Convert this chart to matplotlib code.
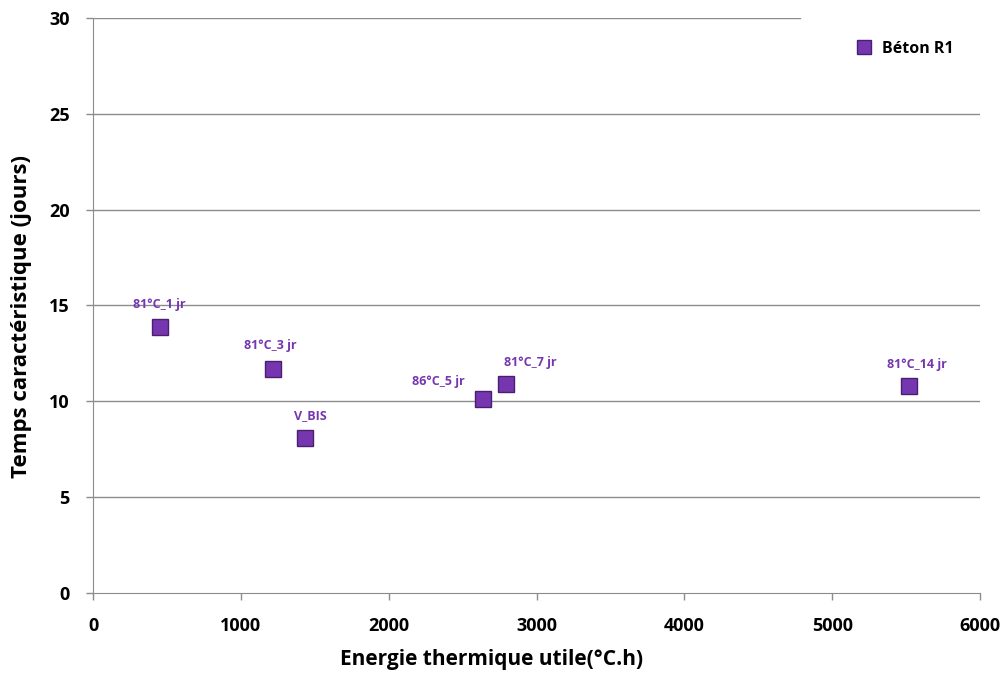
import numpy as np
import matplotlib.pyplot as plt

# data
energie = [450, 1220, 1435, 2640, 2795, 5520]
temps = [13.9, 11.7, 8.1, 10.1, 10.9, 10.8]
labels = ['81°C_1 jr', '81°C_3 jr', 'V_BIS', '86°C_5 jr', '81°C_7 jr', '81°C_14 jr']
# label offsets in points (dx, dy)
offsets = [(0, 11), (-2, 12), (4, 11), (-32, 8), (17, 11), (6, 11)]
yticks = [0, 5, 10, 15, 20, 25, 30]
xticks = [0, 1000, 2000, 3000, 4000, 5000, 6000]

plt.rcParams['font.family'] = ['Open Sans', 'DejaVu Sans']
purple = '#7536b0'
gridc = '#8c8c8c'

fig = plt.figure(figsize=(10.08, 6.79), dpi=100)
ax = fig.add_axes([0.0923, 0.1267, 0.8799, 0.8468])

# horizontal gridlines (top one hidden behind the legend on the right)
for yv in yticks[1:]:
    xmax = 4780 / 6000 if yv == 30 else 1
    ax.axhline(yv, xmin=0, xmax=xmax, color=gridc, lw=1, zorder=1)

ax.plot(energie, temps, ls='none', marker='s', ms=11.5, mfc=purple,
        mec='#4b1f6e', mew=1, zorder=3, label='Béton R1')

for x, y, lab, (dx, dy) in zip(energie, temps, labels, offsets):
    ax.annotate(lab, (x, y), xytext=(dx, dy), textcoords='offset points',
                ha='center', va='bottom', color=purple, fontsize=9,
                fontweight='bold')

ax.set_xlim(0, 6000)
ax.set_ylim(0, 30)
ax.set_xticks(xticks)
ax.set_yticks(yticks)
ax.tick_params(axis='both', labelsize=13, color=gridc, length=5, width=1)
for lab in ax.get_xticklabels() + ax.get_yticklabels():
    lab.set_fontweight('bold')
ax.tick_params(axis='y', pad=12)
ax.tick_params(axis='x', pad=12)

for side in ['top', 'right']:
    ax.spines[side].set_visible(False)
for side in ['left', 'bottom']:
    ax.spines[side].set_color(gridc)

ax.set_xlabel('Energie thermique utile(°C.h)', fontsize=15, fontweight='bold', labelpad=10)
ax.xaxis.set_label_coords(0.449, -0.097)
ax.set_ylabel('Temps caractéristique (jours)', fontsize=16, fontweight='bold')
ax.yaxis.set_label_coords(-0.069, 0.48)

leg = ax.legend(loc='upper left', bbox_to_anchor=(0.835, 0.985), frameon=False,
                fontsize=11.5, handletextpad=0.1, markerscale=0.85)
for t in leg.get_texts():
    t.set_fontweight('bold')

fig.savefig('out.png', dpi=100)
